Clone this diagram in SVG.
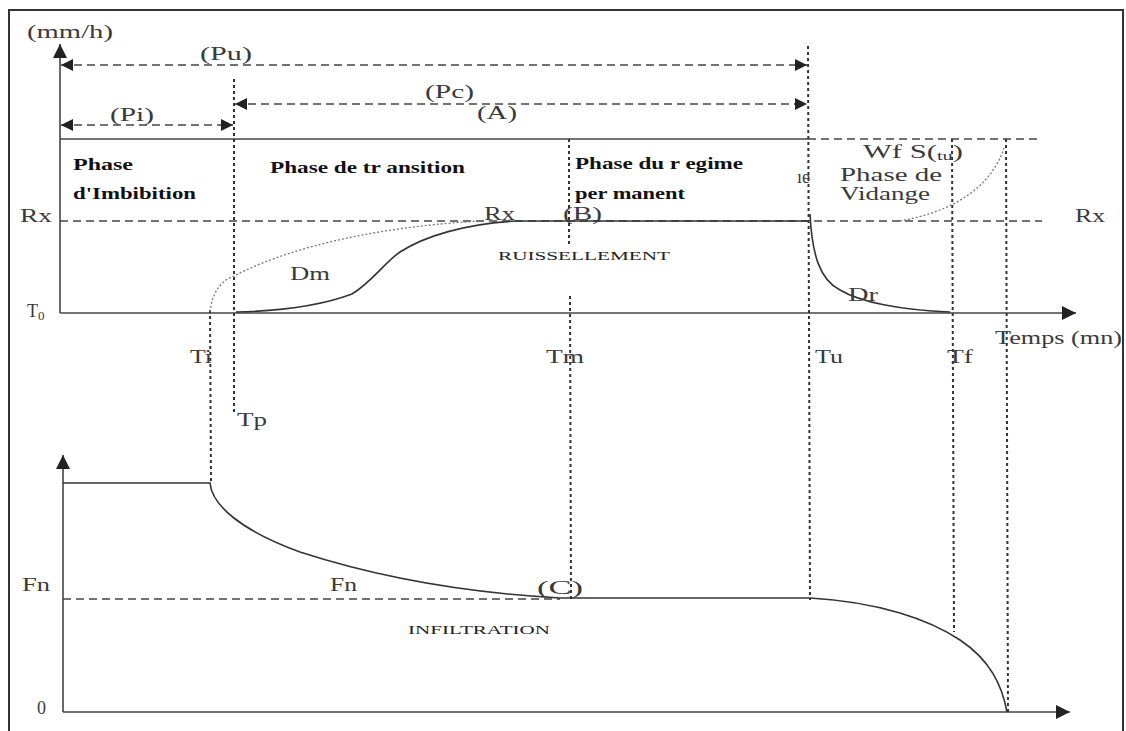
<svg xmlns="http://www.w3.org/2000/svg" width="1126" height="731" viewBox="0 0 1126 731">
<defs>
<style>
.t{font-family:"Liberation Serif","DejaVu Serif",serif;fill:#3a3a3a;}
.lab{font-size:18px;}
.b{font-weight:bold;font-size:16px;fill:#111;}
.sm{font-size:13px;fill:#222;}
.axis{stroke:#444;stroke-width:1.6;fill:none;}
.hd{stroke:#444;stroke-width:1.5;stroke-dasharray:8,5;fill:none;}
.vd{stroke:#333;stroke-width:2;stroke-dasharray:3,3;fill:none;}
.curve{stroke:#333;stroke-width:1.6;fill:none;}
.dot{stroke:#777;stroke-width:1.3;stroke-dasharray:2,2;fill:none;}
</style>
<marker id="ah" viewBox="0 0 10 10" refX="10" refY="5" markerWidth="16" markerHeight="12" markerUnits="userSpaceOnUse" orient="auto-start-reverse">
<path d="M0,0 L10,5 L0,10 z" fill="#222"/>
</marker>
<marker id="ax" viewBox="0 0 10 10" refX="10" refY="5" markerWidth="20" markerHeight="14" markerUnits="userSpaceOnUse" orient="auto">
<path d="M0,0 L10,5 L0,10 z" fill="#222"/>
</marker>
</defs>
<rect width="1126" height="731" fill="#fff"/>
<g id="frame">
<path d="M9,731 V10 H1123 V731" stroke="#333" stroke-width="2" fill="none"/>
</g>
<g id="connectors">
<line class="axis" x1="60" y1="313" x2="60" y2="44" marker-end="url(#ax)"/>
<line class="axis" x1="60" y1="313" x2="1076" y2="313" marker-end="url(#ax)"/>
<line class="axis" x1="63" y1="712" x2="63" y2="455" marker-end="url(#ax)"/>
<line class="axis" x1="63" y1="712" x2="1070" y2="712" marker-end="url(#ax)"/>
<line class="hd" x1="61" y1="65" x2="807" y2="65" marker-start="url(#ah)" marker-end="url(#ah)"/>
<line class="hd" x1="235" y1="104" x2="807" y2="104" marker-start="url(#ah)" marker-end="url(#ah)"/>
<line class="hd" x1="61" y1="125" x2="233" y2="125" marker-start="url(#ah)" marker-end="url(#ah)"/>
<line stroke="#444" stroke-width="1.5" x1="60" y1="139" x2="808" y2="139"/>
<line class="hd" x1="808" y1="139" x2="1042" y2="139"/>
<line class="hd" x1="60" y1="221" x2="1042" y2="221"/>
<line class="hd" x1="63" y1="599" x2="560" y2="599"/>
<line class="vd" x1="234" y1="79" x2="234" y2="412"/>
<line class="vd" x1="808" y1="46" x2="810" y2="600"/>
<line class="vd" x1="569" y1="139" x2="569" y2="244"/>
<line class="vd" x1="570" y1="296" x2="571" y2="600"/>
<line class="vd" x1="210" y1="310" x2="211" y2="483"/>
<line class="vd" x1="952" y1="139" x2="954" y2="632"/>
<line class="vd" x1="1006" y1="139" x2="1008" y2="712"/>
</g>
<g id="runoff">
<path class="curve" d="M236,312 C280,311 320,306 352,294 C372,282 385,262 400,252 C425,236 465,224 515,221 L808,221"/>
<path class="curve" d="M810,214 C812,255 820,280 840,290 C860,302 900,310 950,312"/>
<path class="dot" d="M210,312 C212,292 222,280 234,276 C280,252 360,228 480,221"/>
<path class="dot" d="M900,221 C950,212 990,190 1004,148"/>
</g>
<g id="infiltration">
<path class="curve" d="M63,483 L210,483 C212,505 240,530 300,552 C380,578 470,593 560,598 L810,598 C880,602 930,620 960,640 C990,660 1002,685 1007,712"/>
</g>
<g id="labels">
<text class="t lab" x="27" y="38" textLength="86" lengthAdjust="spacingAndGlyphs">(mm/h)</text>
<text class="t lab" x="200" y="60" textLength="52" lengthAdjust="spacingAndGlyphs">(Pu)</text>
<text class="t lab" x="425" y="98" textLength="49" lengthAdjust="spacingAndGlyphs">(Pc)</text>
<text class="t lab" x="477" y="119" textLength="40" lengthAdjust="spacingAndGlyphs">(A)</text>
<text class="t lab" x="110" y="121" textLength="44" lengthAdjust="spacingAndGlyphs">(Pi)</text>
<text class="t b" x="73" y="170" textLength="60" lengthAdjust="spacingAndGlyphs">Phase</text>
<text class="t b" x="73" y="199" textLength="123" lengthAdjust="spacingAndGlyphs">d'Imbibition</text>
<text class="t b" x="270" y="173" textLength="195" lengthAdjust="spacingAndGlyphs">Phase de tr ansition</text>
<text class="t b" x="575" y="169" textLength="168" lengthAdjust="spacingAndGlyphs">Phase du r egime</text>
<text class="t b" x="575" y="199" textLength="110" lengthAdjust="spacingAndGlyphs">per manent</text>
<text class="t lab" x="797" y="183">ıe</text>
<text class="t lab" x="863" y="158" textLength="100" lengthAdjust="spacingAndGlyphs">Wf  S(<tspan font-size="12" dy="2">tu</tspan><tspan dy="-2">)</tspan></text>
<text class="t lab" x="840" y="181" textLength="102" lengthAdjust="spacingAndGlyphs">Phase de</text>
<text class="t lab" x="840" y="200" textLength="90" lengthAdjust="spacingAndGlyphs">Vidange</text>
<text class="t lab" x="20" y="222" textLength="32" lengthAdjust="spacingAndGlyphs">Rx</text>
<text class="t lab" x="484" y="220" textLength="31" lengthAdjust="spacingAndGlyphs">Rx</text>
<text class="t lab" x="563" y="220" textLength="39" lengthAdjust="spacingAndGlyphs">(B)</text>
<text class="t lab" x="1075" y="222" textLength="30" lengthAdjust="spacingAndGlyphs">Rx</text>
<text class="t lab" x="290" y="280" textLength="40" lengthAdjust="spacingAndGlyphs">Dm</text>
<text class="t sm" x="498" y="260" textLength="172" lengthAdjust="spacingAndGlyphs">RUISSELLEMENT</text>
<text class="t lab" x="848" y="301" textLength="30" lengthAdjust="spacingAndGlyphs">Dr</text>
<text class="t lab" x="27" y="317">T<tspan font-size="13" dy="3">0</tspan></text>
<text class="t lab" x="995" y="344" textLength="127" lengthAdjust="spacingAndGlyphs">Temps (mn)</text>
<text class="t lab" x="190" y="363" textLength="22" lengthAdjust="spacingAndGlyphs">Ti</text>
<text class="t lab" x="546" y="363" textLength="38" lengthAdjust="spacingAndGlyphs">Tm</text>
<text class="t lab" x="815" y="363" textLength="28" lengthAdjust="spacingAndGlyphs">Tu</text>
<text class="t lab" x="947" y="363" textLength="26" lengthAdjust="spacingAndGlyphs">Tf</text>
<text class="t lab" x="237" y="426" textLength="30" lengthAdjust="spacingAndGlyphs">Tp</text>
<text class="t lab" x="22" y="591" textLength="28" lengthAdjust="spacingAndGlyphs">Fn</text>
<text class="t lab" x="330" y="591" textLength="27" lengthAdjust="spacingAndGlyphs">Fn</text>
<text class="t lab" x="537" y="594" textLength="46" lengthAdjust="spacingAndGlyphs">(C)</text>
<text class="t sm" x="408" y="634" textLength="142" lengthAdjust="spacingAndGlyphs">INFILTRATION</text>
<text class="t lab" x="37" y="714">0</text>
</g>
</svg>
